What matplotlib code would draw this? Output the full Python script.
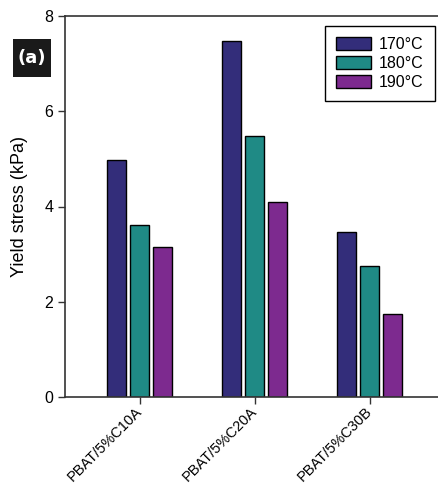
import matplotlib
matplotlib.use("Agg")
import matplotlib.pyplot as plt
import matplotlib.transforms as mtransforms
from matplotlib.patches import Rectangle
import numpy as np

categories = ["PBAT/5%C10A", "PBAT/5%C20A", "PBAT/5%C30B"]
series_names = ["170°C", "180°C", "190°C"]
vals_170 = [4.98, 7.47, 3.47]
vals_180 = [3.61, 5.48, 2.75]
vals_190 = [3.14, 4.10, 1.74]
colors = ["#332d7a", "#1f8a85", "#7d2a8f"]
yticks = [0, 2, 4, 6, 8]

plt.rcParams['font.family'] = ['Liberation Sans', 'DejaVu Sans']

fig = plt.figure(figsize=(4.38, 4.88), dpi=100)
ax = fig.add_axes([65/438, 91/488, 379.5/438, 381/488])

x = np.arange(len(categories))
pitch = 0.2
width = 0.165
for i, (vals, name, c) in enumerate(zip([vals_170, vals_180, vals_190], series_names, colors)):
    ax.bar(x + (i - 1) * pitch, vals, width, color=c, edgecolor="black", linewidth=1.0, label=name)

ax.set_xlim(-0.65, 2.65)
ax.set_ylim(0, 8)
ax.set_yticks(yticks)
ax.set_xticks(x)
ax.set_xticklabels(categories, rotation=45, ha="right", va="center", rotation_mode="anchor", fontsize=10.5)
offset = mtransforms.ScaledTranslation(8/100, -12/100, fig.dpi_scale_trans)
for lab in ax.get_xticklabels():
    lab.set_transform(lab.get_transform() + offset)
ax.tick_params(axis="y", labelsize=11.5, direction="out", length=5, width=1, color="#333333")
ax.tick_params(axis="x", direction="out", length=5, width=1, color="#333333")
for s in ax.spines.values():
    s.set_color("#333333")
    s.set_linewidth(1.2)
ax.spines["right"].set_visible(False)
ax.set_ylabel("Yield stress (kPa)", fontsize=13, labelpad=12)

leg = ax.legend(loc="upper right", bbox_to_anchor=(0.975, 0.974), borderaxespad=0,
                fontsize=11.5, handlelength=2.2, handleheight=0.8, labelspacing=0.25,
                fancybox=False, edgecolor="black", framealpha=1, borderpad=0.7,
                handletextpad=0.5)
leg.get_frame().set_linewidth(1.0)

fig.patches.append(Rectangle((13/438, 1 - 77/488), 38/438, 38/488, transform=fig.transFigure,
                             facecolor="#1a1a1a", edgecolor="none"))
fig.text(32/438, 1 - 58/488, "(a)", color="white", fontsize=13, fontweight="bold",
         ha="center", va="center", family=["DejaVu Sans"])

fig.savefig("out.png", dpi=100)
